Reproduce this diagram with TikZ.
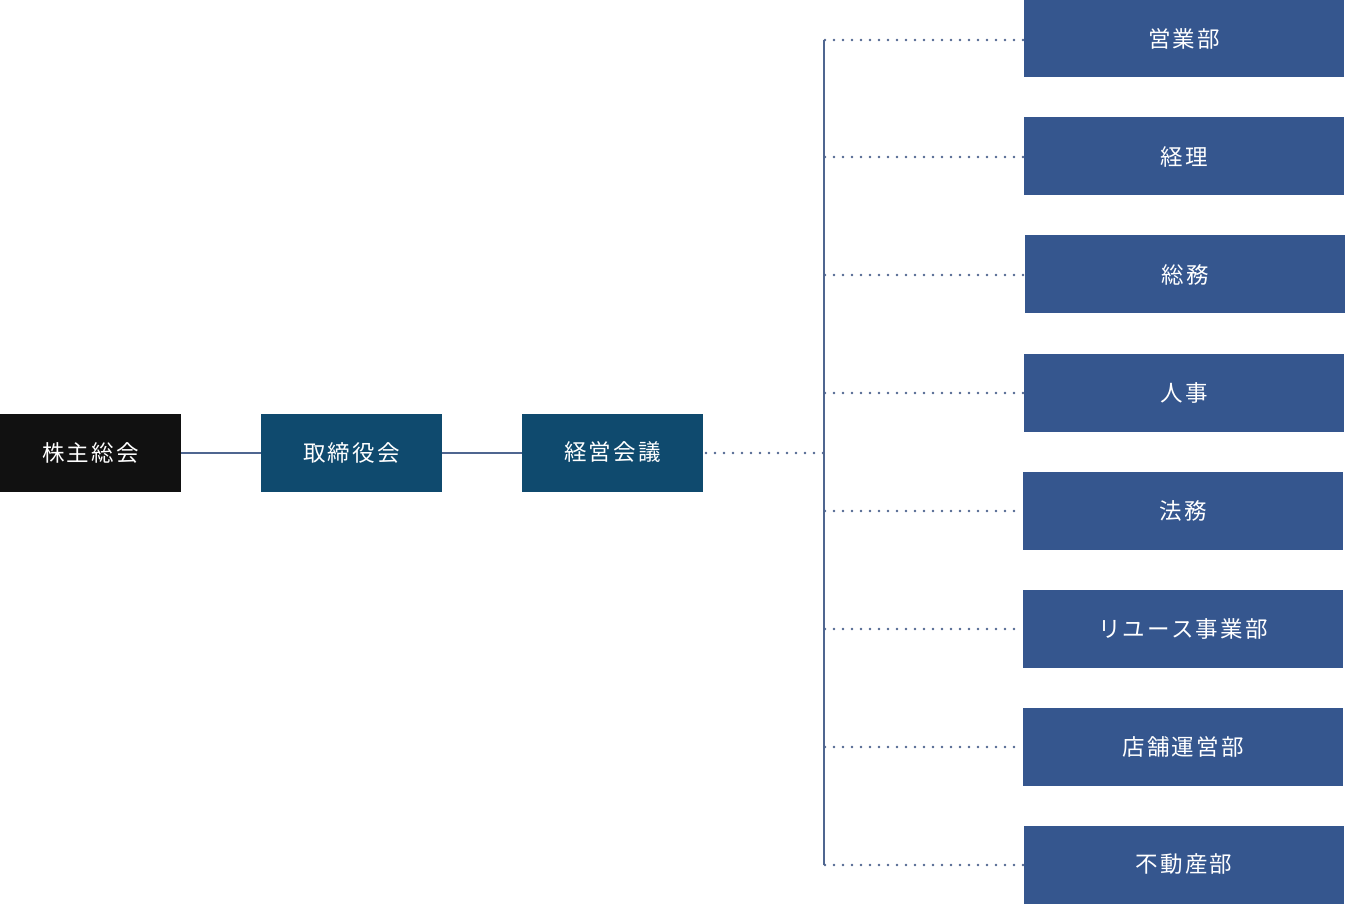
\documentclass[tikz,border=0pt]{standalone}
\usepackage{fontspec}
\newfontfamily\jp[LetterSpace=10]{Noto Sans CJK JP}
\definecolor{blackbox}{HTML}{111111}
\definecolor{navy}{HTML}{0F4A6E}
\definecolor{deptblue}{HTML}{35568E}
\definecolor{linecol}{HTML}{4F6690}
\tikzset{
  box/.style={draw=none, inner sep=0pt, minimum width=181pt, minimum height=78pt, text=white, font=\jp\fontsize{22.5pt}{26pt}\selectfont},
  topbox/.style={box, fill=blackbox},
  midbox/.style={box, fill=navy},
  dept/.style={box, fill=deptblue, minimum width=320pt},
  solidline/.style={draw=linecol, line width=2pt},
  dotline/.style={draw=linecol, line width=2.8pt, line cap=round, dash pattern=on 0pt off 9pt},
}
\begin{document}
\begin{tikzpicture}[x=1pt,y=-1pt]
\useasboundingbox (0,0) rectangle (1345,904);
\node[topbox] (kabu) at (90.5,452.5) {\raisebox{-1pt}{株主総会}};
\node[midbox] (tori) at (351.5,452.5) {\raisebox{-1pt}{取締役会}};
\node[midbox] (keiei) at (612.5,452.5) {\raisebox{-2pt}{経営会議}};
\draw[solidline] (kabu.east |- 0,453) -- (tori.west |- 0,453);
\draw[solidline] (tori.east |- 0,453) -- (keiei.west |- 0,453);
\coordinate (top) at (824,40);
\coordinate (bot) at (824,865);
\coordinate (mid) at (824,453);
\draw[solidline] (top) -- (bot);
\draw[dotline] (706,453) -- (mid);
\node[dept] (d1) at (1184,38.5) {\raisebox{-1pt}{営業部}};
\node[dept] (d2) at (1184,156.5) {\raisebox{-1pt}{経理}};
\node[dept] (d3) at (1185,274.5) {\raisebox{-1pt}{総務}};
\node[dept] (d4) at (1184,392.5) {\raisebox{-1pt}{人事}};
\node[dept] (d5) at (1183,510.5) {\raisebox{-1pt}{法務}};
\node[dept] (d6) at (1183,628.5) {\raisebox{-1pt}{リユース事業部}};
\node[dept] (d7) at (1183,746.5) {\raisebox{-1pt}{店舗運営部}};
\node[dept] (d8) at (1184,864.5) {\raisebox{-1pt}{不動産部}};
\foreach \n/\y in {d1/40,d2/157,d3/275,d4/393,d5/511,d6/629,d7/747,d8/865}{
  \draw[dotline] (825,\y) -- (\n.west |- 0,\y);
}
\end{tikzpicture}
\end{document}
